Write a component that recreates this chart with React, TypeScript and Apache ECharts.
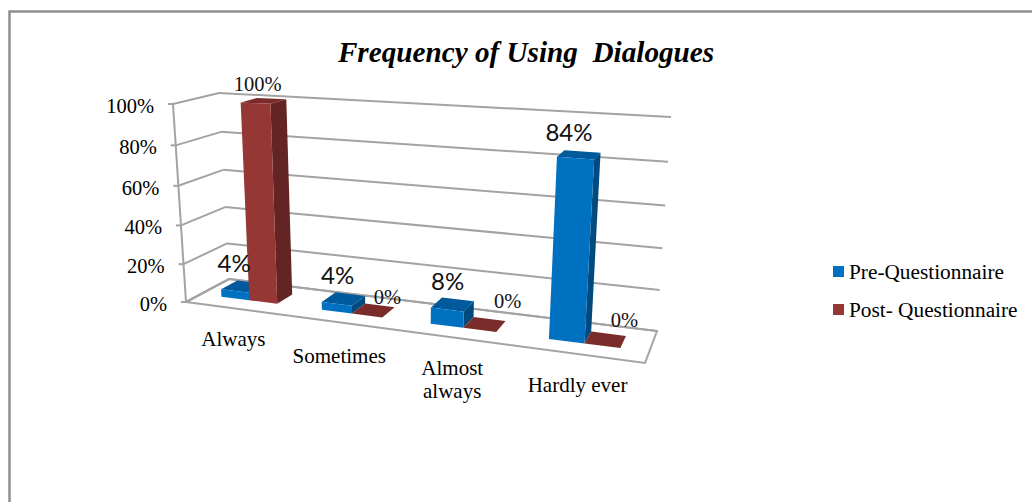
import React, { useEffect, useRef } from "react";
import * as echarts from "echarts";

const categories = ["Always", "Sometimes", "Almost\nalways", "Hardly ever"];
const preValues = [4, 4, 8, 84];
const postValues = [100, 0, 0, 0];
const valueTicks = [0, 20, 40, 60, 80, 100];

const SERIF = '"Liberation Serif", "Times New Roman", serif';
const SANS = 'Lato, "Noto Sans", sans-serif';

type Pt = [number, number];

// Screen corners of the floor of the 3D box.
const FLOOR_FRONT_LEFT: Pt = [186, 302];
const FLOOR_FRONT_RIGHT: Pt = [645, 363];
const FLOOR_BACK_RIGHT: Pt = [657, 331];
const FLOOR_BACK_LEFT: Pt = [229, 279];
// Screen vector from floor to the 100% level at each floor corner.
const RISE_FRONT_LEFT: Pt = [-13, -198];
const RISE_FRONT_RIGHT: Pt = [15.4, -230];
const RISE_BACK_RIGHT: Pt = [14, -214];
const RISE_BACK_LEFT: Pt = [-10, -186];
// Slight foreshortening of the lower part of the value scale.
const RISE_BOW = 0.055;

// Floor homography from the unit square (u along categories, d into depth).
function floorMatrix() {
  const [x0, y0] = FLOOR_FRONT_LEFT;
  const [x1, y1] = FLOOR_FRONT_RIGHT;
  const [x2, y2] = FLOOR_BACK_RIGHT;
  const [x3, y3] = FLOOR_BACK_LEFT;
  const dx1 = x1 - x2, dx2 = x3 - x2, sx = x0 - x1 + x2 - x3;
  const dy1 = y1 - y2, dy2 = y3 - y2, sy = y0 - y1 + y2 - y3;
  const det = dx1 * dy2 - dx2 * dy1;
  const g = (sx * dy2 - dx2 * sy) / det;
  const h = (dx1 * sy - sx * dy1) / det;
  return {
    a: x1 - x0 + g * x1, b: x3 - x0 + h * x3, c: x0,
    d: y1 - y0 + g * y1, e: y3 - y0 + h * y3, f: y0,
    g, h,
  };
}
const M = floorMatrix();

function project(u: number, d: number, v: number): Pt {
  const w = M.g * u + M.h * d + 1;
  const fx = (M.a * u + M.b * d + M.c) / w;
  const fy = (M.d * u + M.e * d + M.f) / w;
  const t = v - RISE_BOW * v * (1 - v);
  const rise = [0, 1].map(
    (k) =>
      (1 - d) * ((1 - u) * RISE_FRONT_LEFT[k] + u * RISE_FRONT_RIGHT[k]) +
      d * ((1 - u) * RISE_BACK_LEFT[k] + u * RISE_BACK_RIGHT[k])
  );
  return [fx + t * rise[0], fy + t * rise[1]];
}

// Normalises data coordinates through the hidden cartesian axes.
function unitCoords(params: any, api: any, category: number, value: number) {
  const cs = params.coordSys;
  const p = api.coord([category, value]);
  return {
    u: (p[0] - cs.x) / cs.width,
    v: (cs.y + cs.height - p[1]) / cs.height,
    band: api.size([1, 0])[0] / cs.width,
  };
}

const DEPTH_FRONT = 0.33;
const DEPTH_BACK = 0.72;

function barRenderer(
  barStart: number,
  barEnd: number,
  faces: { front: string; top: string; side: string },
  labelFont: string,
  labelNudges: Pt[]
) {
  return (params: any, api: any) => {
    const i = api.value(0);
    const value = api.value(1);
    const { u, v, band } = unitCoords(params, api, i, value);
    const u0 = u + barStart * band;
    const u1 = u + barEnd * band;
    const fb0 = project(u0, DEPTH_FRONT, 0);
    const fb1 = project(u1, DEPTH_FRONT, 0);
    const bb1 = project(u1, DEPTH_BACK, 0);
    const ft0 = project(u0, DEPTH_FRONT, v);
    const ft1 = project(u1, DEPTH_FRONT, v);
    const bt0 = project(u0, DEPTH_BACK, v);
    const bt1 = project(u1, DEPTH_BACK, v);
    const poly = (points: Pt[], fill: string) => ({
      type: "polygon",
      shape: { points },
      style: { fill, stroke: "none" },
    });
    const c = project((u0 + u1) / 2, (DEPTH_FRONT + DEPTH_BACK) / 2, v);
    const nudge = labelNudges[params.dataIndex];
    return {
      type: "group",
      children: [
        poly([fb1, bb1, bt1, ft1], faces.side),
        poly([ft0, ft1, bt1, bt0], faces.top),
        poly([fb0, fb1, ft1, ft0], faces.front),
        {
          type: "text",
          z2: 100,
          style: {
            text: `${value}%`,
            x: c[0] + nudge[0],
            y: c[1] + nudge[1],
            align: "center",
            verticalAlign: "middle",
            fill: "#111",
            font: labelFont,
          },
        },
      ],
    };
  };
}

const LINE = "#a3a3a3";
const LINE_WIDTH = 2;
const CATEGORY_NUDGES: Pt[] = [[-2, 19], [-1, 22], [-2, 19], [-1, 19]];

const App = () => {
  const ref = useRef<HTMLDivElement>(null);
  useEffect(() => {
    if (!ref.current) return;
    const chart = echarts.init(ref.current, undefined, { renderer: "svg" });
    const line = (a: Pt, b: Pt) => ({
      type: "line",
      shape: { x1: a[0], y1: a[1], x2: b[0], y2: b[1] },
      style: { stroke: LINE, lineWidth: LINE_WIDTH },
    });
    chart.setOption({
      animation: false,
      backgroundColor: "#fff",
      title: {
        text: "Frequency of Using  Dialogues",
        left: 521,
        top: 32,
        textAlign: "center",
        textStyle: {
          fontFamily: SERIF,
          fontSize: 29.2,
          fontWeight: "bold",
          fontStyle: "italic",
          color: "#000",
        },
      },
      legend: {
        orient: "vertical",
        left: 833,
        top: 261,
        padding: 0,
        icon: "rect",
        itemWidth: 11,
        itemHeight: 11,
        itemGap: 17,
        data: ["Pre-Questionnaire", "Post- Questionnaire"],
        textStyle: { fontFamily: SERIF, fontSize: 21.3, color: "#000" },
      },
      grid: { left: 0, right: 0, top: 0, bottom: 0 },
      xAxis: { type: "category", data: categories, show: false },
      yAxis: { type: "value", min: 0, max: 100, interval: 20, show: false },
      graphic: [
        {
          type: "polyline",
          shape: { points: [[9.5, 502], [9.5, 11.5], [1032, 11.5]] },
          style: { stroke: "#8f8f8f", lineWidth: 2.5, fill: "none" },
        },
      ],
      series: [
        {
          // Floor outline and left edge of the box.
          type: "custom",
          silent: true,
          clip: false,
          data: [[0, 0]],
          renderItem: () => ({
            type: "group",
            children: [
              {
                type: "polygon",
                shape: { points: [project(0, 0, 0), project(1, 0, 0), project(1, 1, 0), project(0, 1, 0)] },
                style: { fill: "none", stroke: LINE, lineWidth: LINE_WIDTH },
              },
              line(project(0, 0, 0), project(0, 0, 1)),
            ],
          }),
        },
        {
          // Gridlines along both walls, with the value scale on the front edge.
          type: "custom",
          silent: true,
          clip: false,
          data: valueTicks.map((t) => [0, t]),
          renderItem: (params: any, api: any) => {
            const t = api.value(1);
            const { v } = unitCoords(params, api, 0, t);
            const front = project(0, 0, v);
            const back = project(0, 1, v);
            const right = project(1, 1, v);
            return {
              type: "group",
              children: [
                line([front[0] - 5, front[1]], front),
                line(front, back),
                line(back, right),
                {
                  type: "text",
                  style: {
                    text: `${t}%`,
                    x: front[0] - 19,
                    y: front[1] + 2,
                    align: "right",
                    verticalAlign: "middle",
                    fill: "#000",
                    font: `20.5px ${SERIF}`,
                  },
                },
              ],
            };
          },
        },
        {
          // Category names under the front edge.
          type: "custom",
          silent: true,
          clip: false,
          data: categories.map((_, i) => [i, 0]),
          renderItem: (params: any, api: any) => {
            const { u } = unitCoords(params, api, api.value(0), 0);
            const p = project(u, 0, 0);
            const nudge = CATEGORY_NUDGES[params.dataIndex];
            return {
              type: "text",
              style: {
                text: categories[params.dataIndex],
                x: p[0] + nudge[0],
                y: p[1] + nudge[1],
                align: "center",
                verticalAlign: "top",
                fill: "#000",
                lineHeight: 23,
                font: `21px ${SERIF}`,
              },
            };
          },
        },
        {
          name: "Pre-Questionnaire",
          type: "custom",
          clip: false,
          itemStyle: { color: "#0070C0" },
          encode: { x: 0, y: 1 },
          data: preValues.map((v, i) => [i, v]),
          renderItem: barRenderer(
            -0.285,
            0,
            { front: "#0070C0", top: "#005A9B", side: "#004A80" },
            `24px ${SANS}`,
            [[-9, -24], [-6, -24], [-5, -24], [-10, -23]]
          ),
        },
        {
          name: "Post- Questionnaire",
          type: "custom",
          clip: false,
          itemStyle: { color: "#953735" },
          encode: { x: 0, y: 1 },
          data: postValues.map((v, i) => [i, v]),
          renderItem: barRenderer(
            0,
            0.28,
            { front: "#953735", top: "#7A2C2A", side: "#632523" },
            `20.5px ${SERIF}`,
            [[-6, -17], [14, -13], [23, -23], [19, -20]]
          ),
        },
      ],
    });
    return () => chart.dispose();
  }, []);
  return (
    <div
      ref={ref}
      style={{ position: "absolute", left: 0, top: 0, width: 1032, height: 502 }}
    />
  );
};

export default App;
